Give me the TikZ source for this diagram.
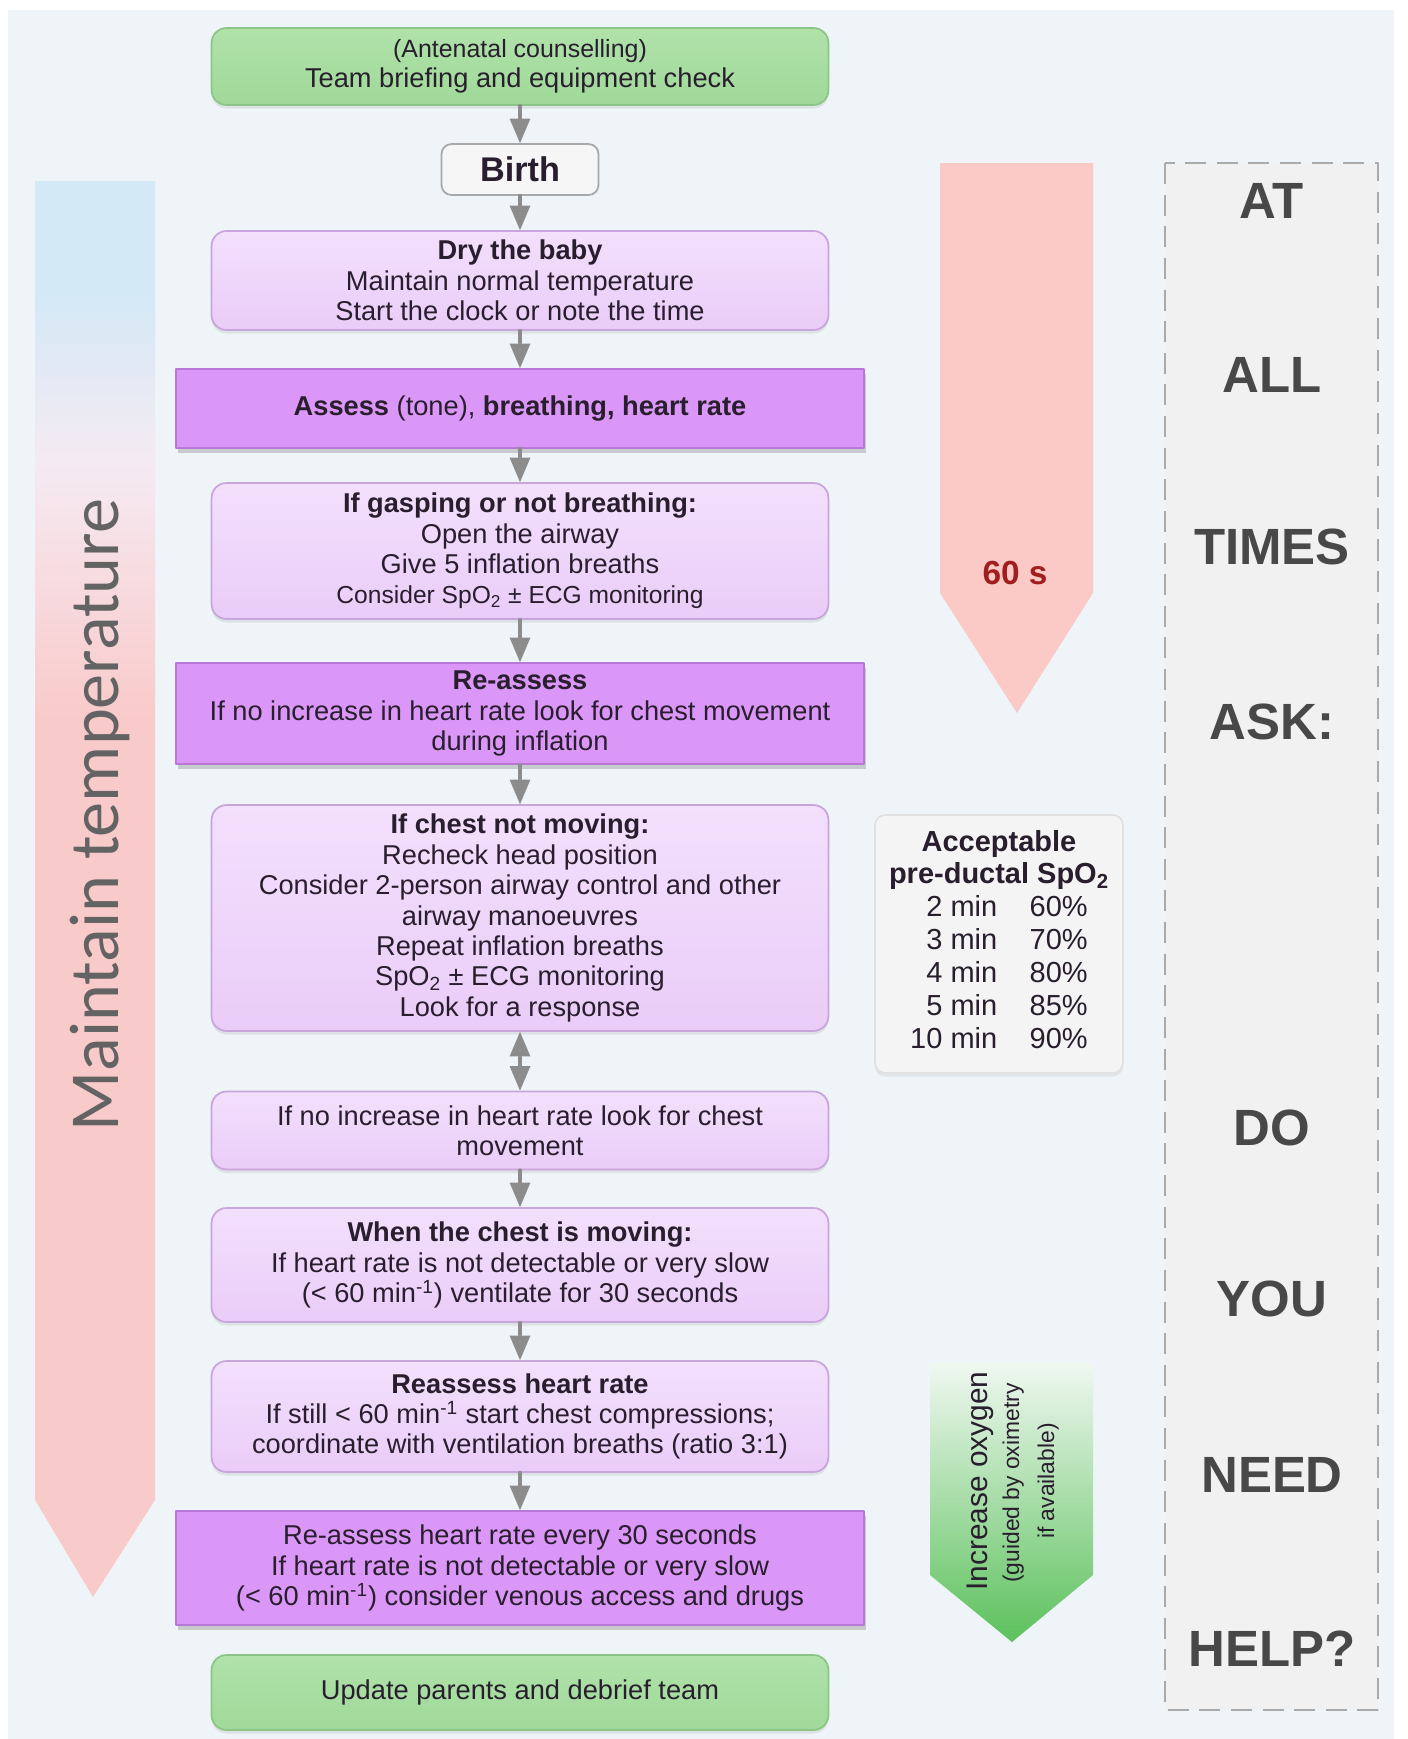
\documentclass[tikz,border=0pt]{standalone}
\usepackage{fontspec}
\setmainfont{Liberation Sans}
\newfontfamily\thinfont{Carlito}
\usetikzlibrary{arrows}
\usetikzlibrary{shadows}

\definecolor{bgblue}{RGB}{238,244,248}
\definecolor{greentop}{RGB}{176,226,170}
\definecolor{greenbot}{RGB}{160,217,153}
\definecolor{greenline}{RGB}{140,197,134}
\definecolor{lilactop}{RGB}{243,224,252}
\definecolor{lilacbot}{RGB}{234,204,248}
\definecolor{lilacline}{RGB}{200,165,218}
\definecolor{lilacdark}{RGB}{219,151,247}
\definecolor{lilacdarkline}{RGB}{185,120,215}
\definecolor{birthfill}{RGB}{246,246,246}
\definecolor{birthline}{RGB}{168,168,168}
\definecolor{arrowgray}{RGB}{140,140,140}
\definecolor{inktext}{RGB}{40,30,45}
\definecolor{tempblue}{RGB}{212,233,246}
\definecolor{tempmid}{RGB}{245,234,242}
\definecolor{temppink}{RGB}{249,202,202}
\definecolor{alarmpink}{RGB}{251,201,198}
\definecolor{alarmred}{RGB}{160,30,30}
\definecolor{oxytop}{RGB}{240,248,241}
\definecolor{oxygreen}{RGB}{92,193,92}
\definecolor{panelgray}{RGB}{241,241,241}
\definecolor{dashgray}{RGB}{170,170,170}
\definecolor{wordgray}{RGB}{72,72,72}
\definecolor{spogray}{RGB}{244,244,244}
\definecolor{spoline}{RGB}{225,225,225}

\pgfdeclareverticalshading{tempshade}{100bp}{color(0bp)=(temppink); color(56bp)=(temppink); color(65bp)=(tempmid); color(71bp)=(tempblue); color(100bp)=(tempblue)}

\newcommand\boxfont{\fontsize{15.5}{17.3}\selectfont}

\begin{document}
\begin{tikzpicture}[line cap=round,line join=round,>=triangle 45,x=0.02cm,y=-0.02cm,
  lightbox/.style={rectangle,rounded corners=0.3cm,draw=lilacline,line width=1pt,top color=lilactop,bottom color=lilacbot,minimum width=12.34cm,align=center,text=inktext,font=\boxfont,drop shadow={shadow xshift=0pt,shadow yshift=-2pt,opacity=0.15}},
  darkbox/.style={rectangle,draw=lilacdarkline,line width=1pt,fill=lilacdark,minimum width=13.76cm,align=center,text=inktext,font=\boxfont,drop shadow={shadow xshift=1pt,shadow yshift=-3pt,opacity=0.35}},
  greenbox/.style={rectangle,rounded corners=0.3cm,draw=greenline,line width=1pt,top color=greentop,bottom color=greenbot,minimum width=12.34cm,align=center,text=inktext,font=\boxfont,drop shadow={shadow xshift=0pt,shadow yshift=-2pt,opacity=0.15}},
  birthbox/.style={rectangle,rounded corners=0.2cm,draw=birthline,line width=1pt,fill=birthfill,minimum width=3.14cm,minimum height=1.02cm,text=inktext,font=\bfseries\fontsize{19.5}{20}\selectfont},
  spobox/.style={rectangle,rounded corners=0.2cm,draw=spoline,line width=1pt,fill=spogray,minimum width=4.96cm,minimum height=5.16cm,align=center,text=inktext,font=\fontsize{16.5}{18.7}\selectfont,drop shadow={shadow xshift=0pt,shadow yshift=-2pt,opacity=0.12}},
  askword/.style={text=wordgray,font=\bfseries\fontsize{29}{29}\selectfont},
  conn/.style={draw=arrowgray,line width=2.3pt}]
\useasboundingbox (0,0) rectangle (1408,1739);
\fill [white] (0,0) rectangle (1408,1739);
\fill [bgblue] (8,10) rectangle (1394,1739);

% side arrows
\shade [shading=tempshade] (35,181)-- (155,181)-- (155,1500)-- (93,1597)-- (35,1500)-- cycle;
\fill [alarmpink] (940,163)-- (1093,163)-- (1093,593)-- (1017,713)-- (940,593)-- cycle;
\shade [top color=oxytop,bottom color=oxygreen] (930,1362)-- (1093,1362)-- (1093,1575)-- (1012,1642)-- (930,1575)-- cycle;
\draw [dashgray,fill=panelgray,line width=1.2pt,dash pattern=on 12pt off 6pt,line cap=butt] (1165,163) rectangle (1378,1710);

\node[rotate=90,anchor=base,text=wordgray!85!white,font=\thinfont\fontsize{40}{40}\selectfont] (maintain) at (118,815) {Maintain temperature};
\node[text=alarmred,font=\bfseries\fontsize{19}{19}\selectfont] (sixty) at (1015,573) {60 s};
\node[rotate=90,anchor=base,text=inktext,font=\fontsize{17}{17}\selectfont] (oxygen) at (987,1481) {Increase oxygen};
\node[rotate=90,anchor=base,text=inktext,font=\fontsize{13}{13}\selectfont] (guided) at (1019,1483) {(guided by oximetry};
\node[rotate=90,anchor=base,text=inktext,font=\fontsize{13}{13}\selectfont] (avail) at (1054,1481) {if available)};

% at all times ask
\node[askword] (at) at (1272,201) {AT};
\node[askword] (all) at (1272,375) {ALL};
\node[askword] (times) at (1272,547) {TIMES};
\node[askword] (ask) at (1272,722) {ASK:};
\node[askword] (do) at (1272,1128) {DO};
\node[askword] (you) at (1272,1299) {YOU};
\node[askword] (need) at (1272,1475) {NEED};
\node[askword] (help) at (1272,1649) {HELP?};

% spo2 table
\node[spobox] (spo) at (999,944) {\textbf{Acceptable}\\\textbf{pre-ductal SpO\textsubscript{2}}\\\begin{tabular}[t]{@{}r@{\hspace{18.5pt}}l@{}}2 min & 60\%\\3 min & 70\%\\4 min & 80\%\\5 min & 85\%\\10 min & 90\%\end{tabular}};

% main flow
\node[greenbox,minimum height=1.54cm] (start) at (520,66.5) {{\fontsize{14.2}{17.3}\selectfont (Antenatal counselling)}\\Team briefing and equipment check};
\node[birthbox] (birth) at (520,169.5) {Birth};
\node[lightbox,minimum height=1.98cm] (dry) at (520,280.5) {\textbf{Dry the baby}\\Maintain normal temperature\\Start the clock or note the time};
\node[darkbox,minimum height=1.58cm] (assess) at (520,408.5) {\textbf{Assess} (tone), \textbf{breathing, heart rate}};
\node[lightbox,minimum height=2.72cm] (gasp) at (520,551) {\textbf{If gasping or not breathing:}\\Open the airway\\Give 5 inflation breaths\\{\fontsize{14}{17.3}\selectfont Consider SpO\textsubscript{2} ± ECG monitoring}};
\node[darkbox,minimum height=2.02cm] (reassess) at (520,713.5) {\textbf{Re-assess}\\If no increase in heart rate look for chest movement\\during inflation};
\node[lightbox,minimum height=4.52cm] (chest) at (520,918) {\textbf{If chest not moving:}\\Recheck head position\\Consider 2-person airway control and other\\airway manoeuvres\\Repeat inflation breaths\\SpO\textsubscript{2} ± ECG monitoring\\Look for a response};
\node[lightbox,minimum height=1.56cm] (noinc) at (520,1130.5) {If no increase in heart rate look for chest\\movement};
\node[lightbox,minimum height=2.28cm] (moving) at (520,1265) {\textbf{When the chest is moving:}\\If heart rate is not detectable or very slow\\(< 60 min\textsuperscript{-1}) ventilate for 30 seconds};
\node[lightbox,minimum height=2.22cm] (hrate) at (520,1416.5) {\textbf{Reassess heart rate}\\If still < 60 min\textsuperscript{-1} start chest compressions;\\coordinate with ventilation breaths (ratio 3:1)};
\node[darkbox,minimum height=2.28cm] (every) at (520,1568) {Re-assess heart rate every 30 seconds\\If heart rate is not detectable or very slow\\(< 60 min\textsuperscript{-1}) consider venous access and drugs};
\node[greenbox,minimum height=1.5cm] (update) at (520,1692.5) {Update parents and debrief team};

\draw [conn,->] (start.south)-- (birth.north);
\draw [conn,->] (birth.south)-- (dry.north);
\draw [conn,->] (dry.south)-- (assess.north);
\draw [conn,->] (assess.south)-- (gasp.north);
\draw [conn,->] (gasp.south)-- (reassess.north);
\draw [conn,->] (reassess.south)-- (chest.north);
\draw [conn,<->] (chest.south)-- (noinc.north);
\draw [conn,->] (noinc.south)-- (moving.north);
\draw [conn,->] (moving.south)-- (hrate.north);
\draw [conn,->] (hrate.south)-- (every.north);
\end{tikzpicture}
\end{document}
